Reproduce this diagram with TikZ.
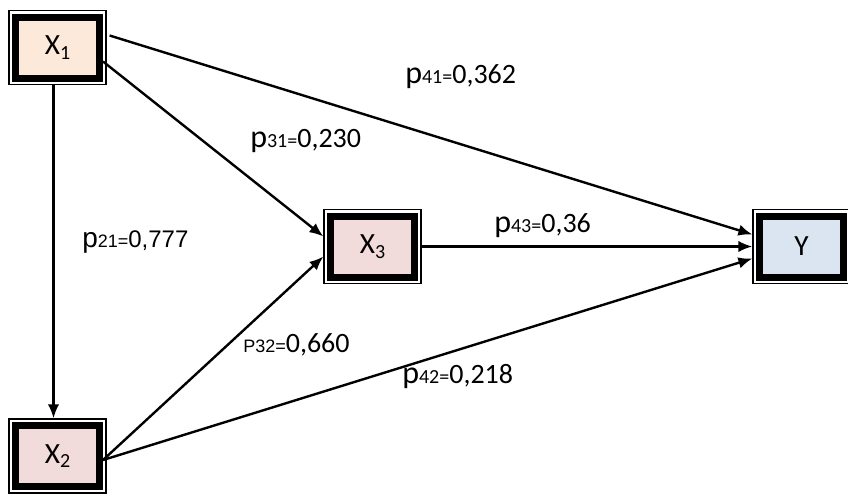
\documentclass[tikz,border=0pt]{standalone}
\usepackage{fontspec}
\setmainfont{Carlito}
\newfontfamily\arialf{Liberation Sans}
\usetikzlibrary{arrows.meta,fit,calc}
\definecolor{peach}{HTML}{FDE9D9}
\definecolor{rose}{HTML}{F2DCDB}
\definecolor{paleblue}{HTML}{DBE5F1}
\newcommand\boxlbl[2]{\fontsize{22}{24}\selectfont #1\raisebox{-3.5pt}{\fontsize{15}{16}\selectfont #2}}
\newcommand\pathlbl[3]{{\fontsize{24}{26}\selectfont #1}{\fontsize{15}{16}\selectfont #2}{\fontsize{21}{22}\selectfont #3}}
\begin{document}
\begin{tikzpicture}[x=0.75pt,y=-0.75pt,
 varbox/.style={draw=black, line width=5.25pt, minimum width=63pt, minimum height=45.75pt, inner sep=0pt},
 outerbox/.style={draw=black, line width=0.9pt, inner sep=2.25pt},
 conn/.style={line width=1.8pt, -{Latex[length=10.5pt,width=8.5pt]}},
 lbl/.style={anchor=base west, inner sep=0pt}]
\useasboundingbox (0,0) rectangle (848,493);
\clip (0,0) rectangle (848,493);
\node[varbox, fill=peach] (x1) at (57.5,47.5) {\boxlbl{X}{1}\hspace{5pt}};
\node[varbox, fill=rose] (x2) at (57.5,456) {\boxlbl{X}{2}\hspace{5pt}};
\node[varbox, fill=rose] (x3) at (372.5,246.5) {\boxlbl{X}{3}\hspace{5pt}};
\node[varbox, fill=paleblue] (y) at (801.5,246.5) {\fontsize{22}{24}\selectfont Y};
\node[outerbox, fit=(x1)] (x1o) {};
\node[outerbox, fit=(x2)] (x2o) {};
\node[outerbox, fit=(x3)] (x3o) {};
\node[outerbox, fit=(y)] (yo) {};
\draw[conn] ($(x1o.south)+(-4,0)$) -- ($(x2o.north)+(-4,0)$);
\draw[conn] ($(x1.east)+(0,14)$) -- ($(x3o.west)+(0,-10)$);
\draw[conn] ($(x1o.east)+(3,-12)$) -- ($(yo.west)+(0,-12)$);
\draw[conn] (x3o.east) -- (yo.west);
\draw[conn] ($(x2.east)+(0,4)$) -- ($(x3o.west)+(0,10)$);
\draw[conn] ($(x2.east)+(0,4)$) -- ($(yo.west)+(0,12)$);
\node[lbl] (l41) at (405,83) {\pathlbl{p}{41=}{0,362}};
\node[lbl] (l31) at (250,147) {\pathlbl{p}{31=}{0,230}};
\node[lbl] (l21) at (82,247) {\arialf{\fontsize{21}{22}\selectfont p}{\fontsize{13.5}{14}\selectfont 21=}{\fontsize{18}{20}\selectfont 0,777}};
\node[lbl] (l43) at (494,232) {\pathlbl{p}{43=}{0,36}};
\node[lbl] (l32) at (243,352) {{\arialf\fontsize{13.5}{14}\selectfont P32=}{\fontsize{21}{22}\selectfont 0,660}};
\node[lbl] (l42) at (402,383) {\pathlbl{p}{42=}{0,218}};
\end{tikzpicture}
\end{document}
